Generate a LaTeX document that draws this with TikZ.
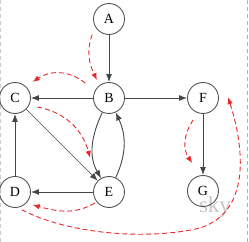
\documentclass[tikz,border=0pt]{standalone}
\usepackage{fontspec}
\setmainfont{Liberation Serif}
\usetikzlibrary{arrows.meta}
\definecolor{redd}{HTML}{E8282B}
\definecolor{edgec}{HTML}{454545}
\definecolor{circc}{HTML}{555555}
\begin{document}
\begin{tikzpicture}[x=1bp,y=1bp,
  vnode/.style={circle,draw=circc,line width=0.9bp,minimum size=31bp,inner sep=0pt,
    font=\fontsize{14}{14}\selectfont},
  solidarr/.style={draw=edgec,line width=0.9bp,-{Latex[length=8bp,width=6bp]}},
  redarr/.style={draw=redd,line width=0.9bp,dash pattern=on 5bp off 3bp,
    -{Latex[length=7bp,width=5.5bp]}}]
\useasboundingbox (0,0) rectangle (249,242);
% side borders
\draw[gray!40,line width=0.8bp,dash pattern=on 4bp off 3bp] (0.5,0) -- (0.5,242);
\draw[gray!60,line width=0.8bp,dash pattern=on 4bp off 3bp] (247,0) -- (247,242);
% watermark
\node[text=gray!45,font=\fontsize{23}{23}\selectfont,inner sep=0pt] (wm) at (215,35) {sky};
% nodes
\node[vnode] (A) at (109,223) {A};
\node[vnode] (B) at (109,144) {B};
\node[vnode] (C) at (15,144) {C};
\node[vnode] (F) at (203,144) {F};
\node[vnode] (D) at (15,50) {D};
\node[vnode] (E) at (109,50) {E};
\node[vnode] (G) at (203,51) {G};
% solid edges
\draw[solidarr] (A) -- (B);
\draw[solidarr] (B) -- (C);
\draw[solidarr] (B) -- (F);
\draw[solidarr] (F) -- (G);
\draw[solidarr] (E) -- (D);
\draw[solidarr] (D) -- (C);
\draw[solidarr,line width=0.7bp] (C) -- (E);
\draw[solidarr] (B) to[out=245,in=120] (E);
\draw[solidarr] (E) to[out=65,in=295] (B);
% red dashed traversal
\draw[redarr] ([shift={(223:23)}]A.center) to[out=250,in=115] ([shift={(124:21.6)}]B.center);
\draw[redarr] ([shift={(148:28)}]B.center) to[out=140,in=35] ([shift={(42:24)}]C.center);
\draw[redarr] ([shift={(338:24)}]C.center) to[out=-10,in=105] ([shift={(119:39)}]E.center);
\draw[redarr] ([shift={(218:18)}]E.center) to[out=210,in=-15] ([shift={(324:22)}]D.center);
\draw[redarr] ([shift={(291:19)}]D.center) .. controls (70,7) and (150,2) .. (200,14)
  .. controls (250,30) and (245,92) .. ([shift={(2:25)}]F.center);
\draw[redarr] ([shift={(246:24)}]F.center) to[out=235,in=125] ([shift={(111:30)}]G.center);
\end{tikzpicture}
\end{document}
